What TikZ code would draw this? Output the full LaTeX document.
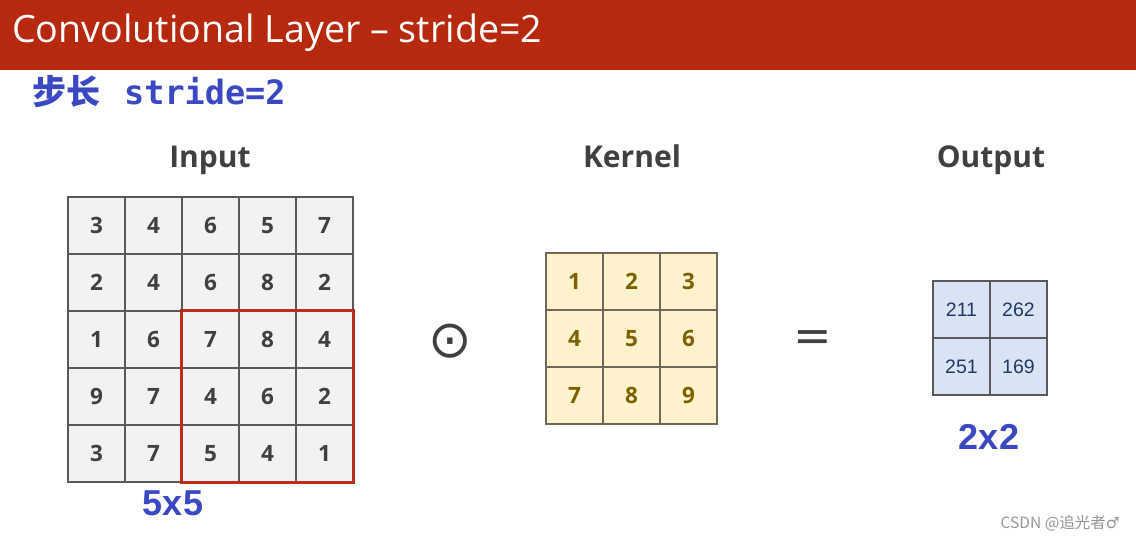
\documentclass[tikz,border=0pt]{standalone}
\usepackage{fontspec}
\setmainfont{Open Sans}
\newfontfamily\cjkfont{Noto Sans CJK SC}
\newfontfamily\monofont{DejaVu Sans Mono}
\newfontfamily\arialfont{Liberation Sans}
\newfontfamily\symfont{DejaVu Sans}
\definecolor{barred}{RGB}{183,41,15}
\definecolor{boxred}{RGB}{185,45,25}
\definecolor{lblblue}{RGB}{59,72,196}
\definecolor{numgrey}{RGB}{64,64,64}
\definecolor{gridline}{RGB}{89,89,89}
\definecolor{incell}{RGB}{242,242,242}
\definecolor{kcell}{RGB}{255,242,204}
\definecolor{knum}{RGB}{127,96,0}
\definecolor{kline}{RGB}{112,104,88}
\definecolor{ocell}{RGB}{218,227,243}
\definecolor{onum}{RGB}{31,56,100}
\definecolor{wmgrey}{RGB}{150,150,150}
\tikzset{
  cellbase/.style={rectangle, draw=gridline, line width=1.1pt, minimum size=57pt, inner sep=0pt},
  incellst/.style={cellbase, fill=incell, text=numgrey, font=\fontsize{22.5}{26}\selectfont\bfseries},
  kcellst/.style={cellbase, draw=kline, fill=kcell, text=knum, font=\fontsize{22.5}{26}\selectfont\bfseries},
  ocellst/.style={cellbase, fill=ocell, text=onum, font=\arialfont\fontsize{19.5}{23}\selectfont},
  headst/.style={anchor=base, text=numgrey, font=\fontsize{30}{34}\selectfont\bfseries, inner sep=0pt},
  sizest/.style={text=lblblue, font=\arialfont\bfseries\fontsize{36}{40}\selectfont, inner sep=0pt},
  opst/.style={text=numgrey, font=\symfont\fontsize{46}{50}\selectfont, inner sep=0pt},
}
\begin{document}
\begin{tikzpicture}[x=1pt,y=-1pt]
\useasboundingbox (0,0) rectangle (1136,541);
\fill[white] (0,0) rectangle (1136,541);
\fill[barred] (0,0) rectangle (1136,70);
\node[anchor=west, text=white, inner sep=0pt, font=\fontsize{40}{46}\selectfont] (title) at (12,33)
  {\resizebox{530pt}{!}{Convolutional Layer – stride=2}};
\node[anchor=west, text=lblblue, inner sep=0pt] (stridelbl) at (32,92)
  {{\cjkfont\bfseries\fontsize{34}{38}\selectfont 步长}\hspace{24pt}{\monofont\bfseries\fontsize{33.5}{38}\selectfont stride=2}};
% headings
\node[headst] (inhead) at (210,167) {Input};
\node[headst] (khead) at (632,167) {Kernel};
\node[headst] (ohead) at (991,167) {Output};
% input grid
\foreach \row [count=\r from 0] in {{3,4,6,5,7},{2,4,6,8,2},{1,6,7,8,4},{9,7,4,6,2},{3,7,5,4,1}} {
  \foreach \v [count=\c from 0] in \row {
    \node[incellst] (in-\r-\c) at ({68+28.5+57*\c},{197+28.5+57*\r}) {\v};
  }
}
\draw[boxred, line width=3pt] (in-2-2.north west) rectangle (in-4-4.south east);
% kernel grid
\foreach \row [count=\r from 0] in {{1,2,3},{4,5,6},{7,8,9}} {
  \foreach \v [count=\c from 0] in \row {
    \node[kcellst] (k-\r-\c) at ({546+28.5+57*\c},{253+28.5+57*\r}) {\v};
  }
}
% output grid
\foreach \row [count=\r from 0] in {{211,262},{251,169}} {
  \foreach \v [count=\c from 0] in \row {
    \node[ocellst] (o-\r-\c) at ({933+28.5+57*\c},{281+28.5+57*\r}) {\v};
  }
}
% operators
\node[opst, font=\symfont\fontsize{52}{56}\selectfont] (odot) at (450,341) {⊙};
\node[opst] (eq) at (813,341) {=};
% size labels
\node[sizest] (insize) at (173,503) {5x5};
\node[sizest] (osize) at (989,437) {2x2};
% watermark
\node[anchor=east, text=wmgrey, inner sep=0pt, font=\cjkfont\fontsize{15.5}{18}\selectfont] (wm) at (1120,523) {CSDN @追光者{\symfont ♂}};
\end{tikzpicture}
\end{document}
